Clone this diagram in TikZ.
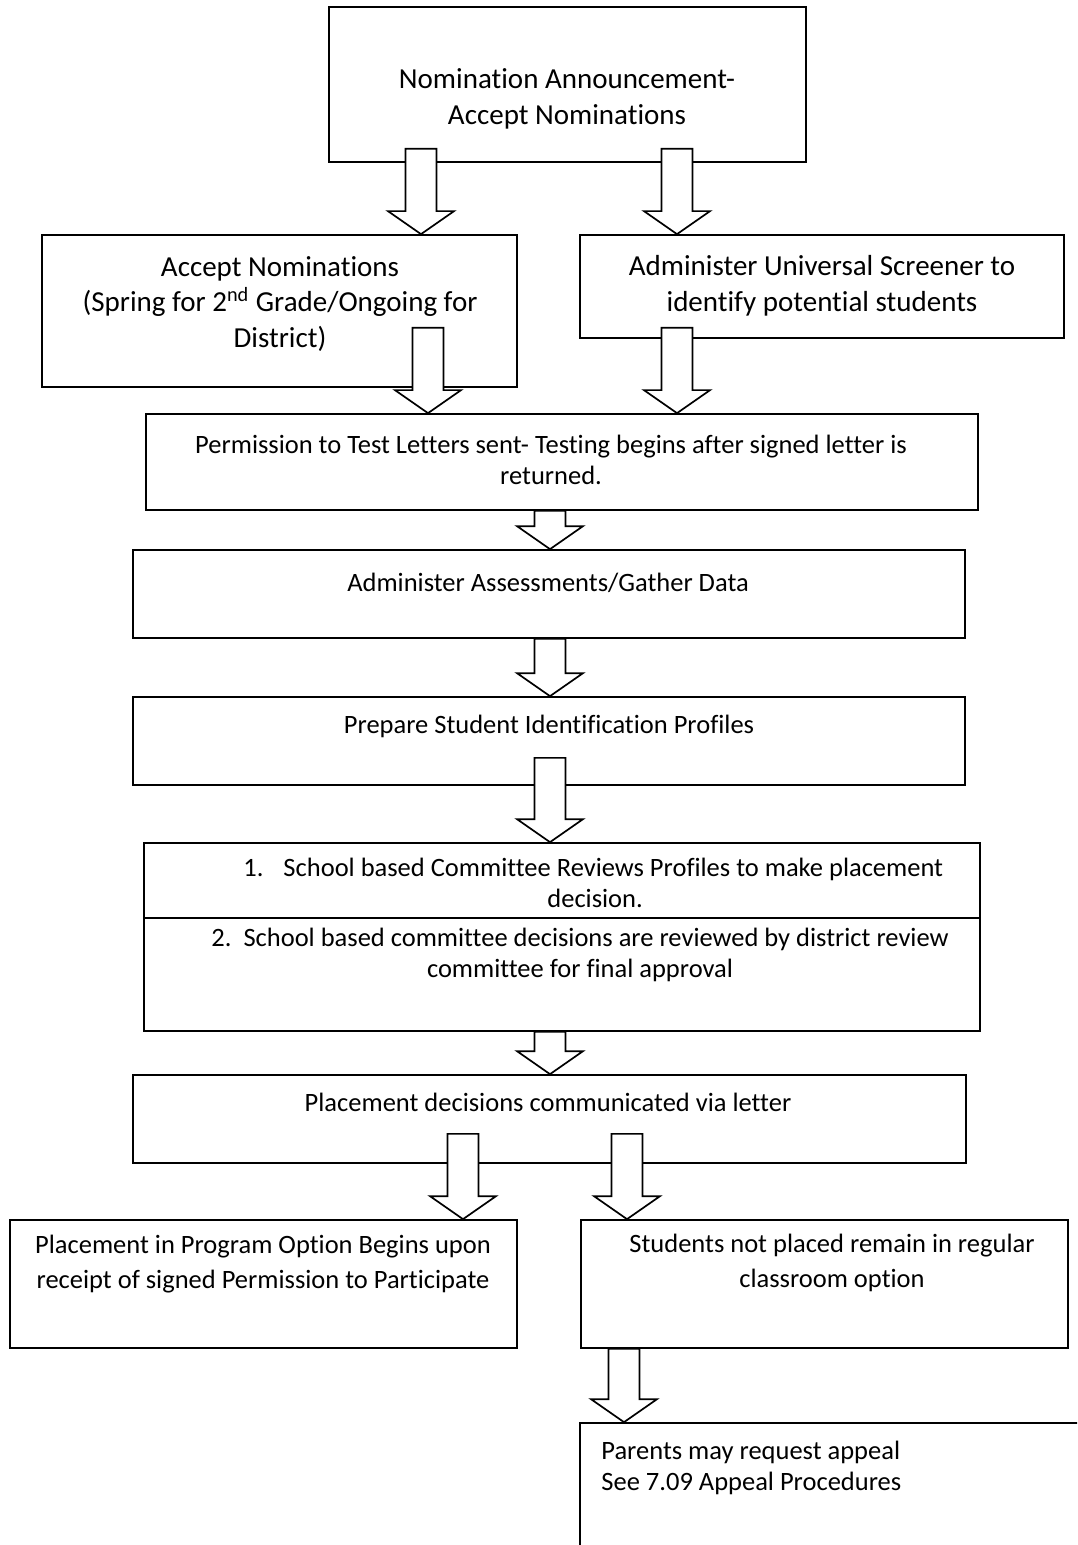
\documentclass[tikz,border=0pt]{standalone}
\usepackage{fontspec}
\setmainfont{Carlito}[Ligatures=NoCommon]
\usetikzlibrary{calc,fit,positioning}
\tikzset{
    box/.style={draw, line width=0.85pt, inner sep=0pt, fit={#1}},
    bigtxt/.style={align=center, inner sep=0pt, font=\fontsize{14.5}{17.75}\selectfont},
    smalltxt/.style={align=center, inner sep=0pt, font=\fontsize{13.25}{15.75}\selectfont},
    widetxt/.style={smalltxt, font=\fontsize{13.25}{17.5}\selectfont},
    bigarr/.style={draw, line width=0.85pt, fill=white, line join=miter}
}
% block arrow: [shaft start inside source, px]{x}{source}{target}
\newcommand{\bigarrow}[4][0]{%
    \draw[bigarr] let \p1=(#3.south), \p2=(#4.north), \p3=(#2,0) in
        (\x3-7.75pt,\y1+#1*0.5pt) -- (\x3-7.75pt,\y2+11.5pt) -- (\x3-16.5pt,\y2+11.5pt)
        -- (\x3,\y2) -- (\x3+16.5pt,\y2+11.5pt) -- (\x3+7.75pt,\y2+11.5pt)
        -- (\x3+7.75pt,\y1+#1*0.5pt) -- cycle;
}

\begin{document}
\begin{tikzpicture}[x=0.5pt, y=-0.5pt]
    \useasboundingbox (0,0) rectangle (1077,1545);
    \clip (0,0) rectangle (1077,1545);

    % Boxes
    \node[box={(329,7) (806,162)}] (nom) {};
    \node[box={(42,235) (517,387)}] (acc) {};
    \node[box={(580,235) (1064,338)}] (scr) {};
    \node[box={(146,414) (978,510)}] (per) {};
    \node[box={(133,550) (965,638)}] (ass) {};
    \node[box={(133,697) (965,785)}] (pro) {};
    \node[box={(144,843) (980,918)}] (rev1) {};
    \node[box={(144,918) (980,1031)}] (rev2) {};
    \node[box={(133,1075) (966,1163)}] (dec) {};
    \node[box={(10,1220) (517,1348)}] (prog) {};
    \node[box={(581,1220) (1068,1348)}] (not) {};
    \node[box={(580,1423) (1120,1600)}] (app) {};

    % Arrows
    \bigarrow[14]{421}{nom}{acc}
    \bigarrow[14]{677}{nom}{scr}
    \bigarrow[60]{428}{acc}{per}
    \bigarrow[11]{677}{scr}{per}
    \bigarrow{550}{per}{ass}
    \bigarrow{550}{ass}{pro}
    \bigarrow[28]{550}{pro}{rev1}
    \bigarrow{550}{rev2}{dec}
    \bigarrow[30]{463}{dec}{prog}
    \bigarrow[30]{627}{dec}{not}
    \bigarrow{624}{not}{app}

    % Texts
    \node[bigtxt] (nom-t) at (567,99) {Nomination Announcement-\\Accept Nominations};
    \node[bigtxt] (acc-t) at (280,304) {Accept Nominations\\(Spring for 2\textsuperscript{nd} Grade/Ongoing for\\District)};
    \node[bigtxt] (scr-t) at (822,286) {Administer Universal Screener to\\identify potential students};
    \node[smalltxt] (per-t) at (551,460) {Permission to Test Letters sent- Testing begins after signed letter is\\returned.};
    \node[smalltxt] (ass-t) at (548,583) {Administer Assessments/Gather Data};
    \node[smalltxt] (pro-t) at (549,726) {Prepare Student Identification Profiles};
    \node[smalltxt, align=left, anchor=west] (rev1-t) at (243,883) {1.\hspace{10pt}School based Committee Reviews Profiles to make placement\\\hspace*{152pt}decision.};
    \node[smalltxt] (rev2-t) at (580,955) {2.\ \ School based committee decisions are reviewed by district review\\committee for final approval};
    \node[smalltxt] (dec-t) at (548,1102) {Placement decisions communicated via letter};
    \node[widetxt] (prog-t) at (263,1264) {Placement in Program Option Begins upon\\receipt of signed Permission to Participate};
    \node[widetxt] (not-t) at (832,1263) {Students not placed remain in regular\\classroom option};
    \node[smalltxt, align=left, anchor=west] (app-t) at (601,1468) {Parents may request appeal\\See 7.09 Appeal Procedures};
\end{tikzpicture}
\end{document}
